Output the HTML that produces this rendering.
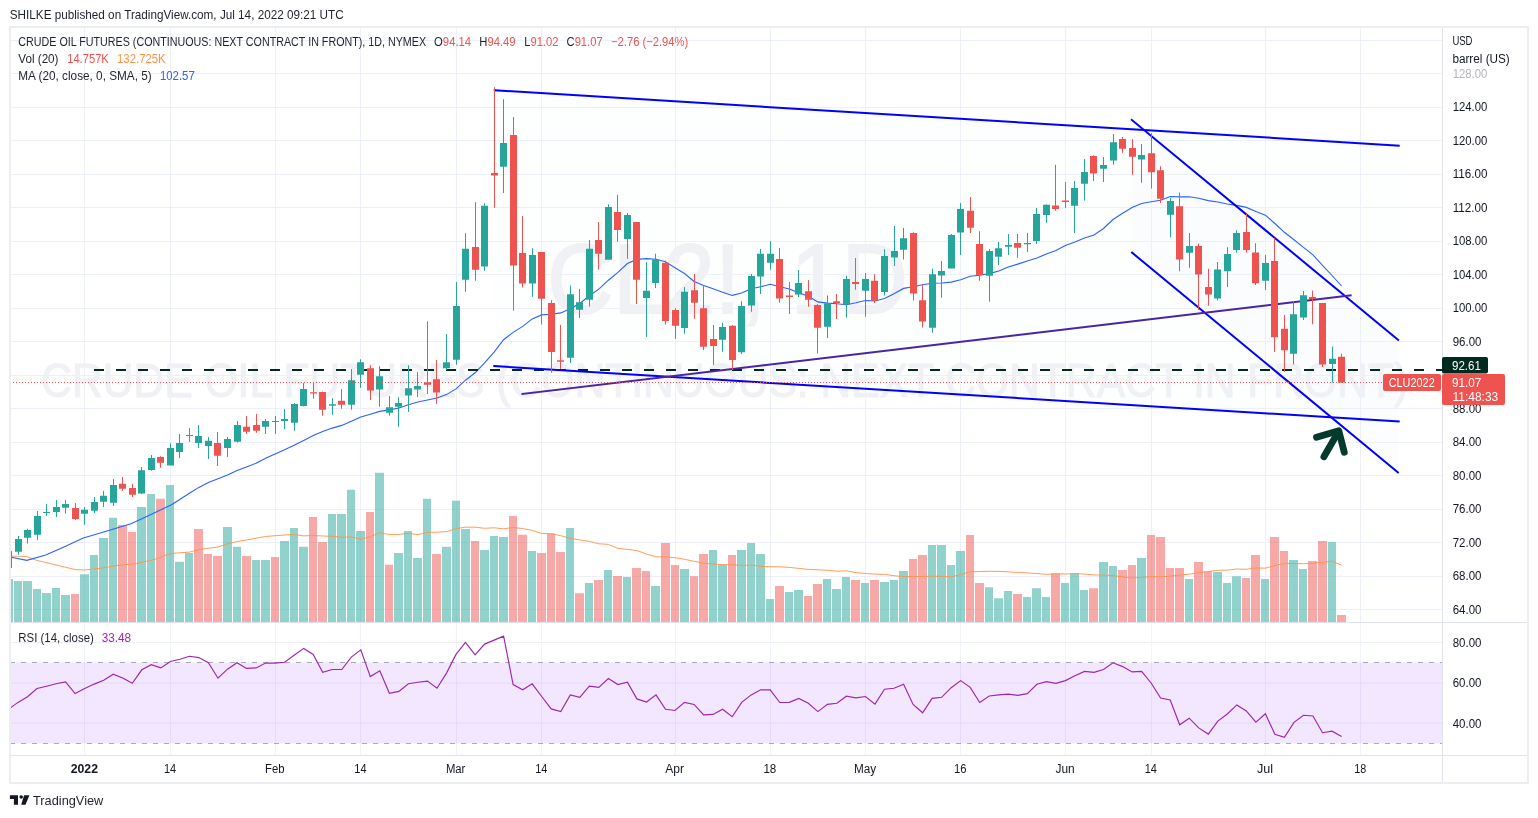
<!DOCTYPE html>
<html><head><meta charset="utf-8"><style>
html,body{margin:0;padding:0;background:#fff;}
body{width:1538px;height:818px;position:relative;overflow:hidden;font-family:"Liberation Sans",sans-serif;color:#131722;}
</style></head><body>
<svg width="1538" height="818" viewBox="0 0 1538 818" style="position:absolute;left:0;top:0;will-change:transform">
<defs><clipPath id="cm"><rect x="10" y="28" width="1432" height="594"/></clipPath><clipPath id="cr"><rect x="10" y="623" width="1432" height="132"/></clipPath></defs>
<path d="M494.8 90L1398.7 145.3L1398.7 421.4L494.3 366.1Z" fill="#f6f7fc" fill-opacity="0.18"/>
<path d="M1131.8 119.9L1398.1 339.8L1397.9 472.3L1132 252.6Z" fill="#f6f7fc" fill-opacity="0.3"/>
<path d="M10 609.5H1442M10 576.5H1442M10 542.5H1442M10 509.5H1442M10 475.5H1442M10 442.5H1442M10 408.5H1442M10 375.5H1442M10 341.5H1442M10 308.5H1442M10 274.5H1442M10 241.5H1442M10 207.5H1442M10 174.5H1442M10 140.5H1442M10 107.5H1442M10 73.5H1442M10 40.5H1442M84.5 28V622M84.5 623V755M170.5 28V622M170.5 623V755M275.5 28V622M275.5 623V755M360.5 28V622M360.5 623V755M456.5 28V622M456.5 623V755M541.5 28V622M541.5 623V755M675.5 28V622M675.5 623V755M770.5 28V622M770.5 623V755M865.5 28V622M865.5 623V755M960.5 28V622M960.5 623V755M1065.5 28V622M1065.5 623V755M1151.5 28V622M1151.5 623V755M1265.5 28V622M1265.5 623V755M1360.5 28V622M1360.5 623V755M10 642.5H1442M10 683H1442M10 723H1442" stroke="#edf0f8" stroke-width="1" fill="none"/>
<g clip-path="url(#cm)">
<text x="547.3" y="312.8" font-family="Liberation Sans" font-size="99" fill="#f0f1f5" stroke="#f0f1f5" stroke-width="2" textLength="360.5" lengthAdjust="spacingAndGlyphs">CL2!, 1D</text>
<text x="41.2" y="396.6" font-family="Liberation Sans" font-size="47.5" fill="#f0f1f5" stroke="#f0f1f5" stroke-width="1.2" textLength="1367" lengthAdjust="spacingAndGlyphs">CRUDE OIL FUTURES (CONTINUOUS: NEXT CONTRACT IN FRONT)</text>
<path d="M4 579.1H13V622H4ZM14 581.0H22V622H14ZM23 581.0H32V622H23ZM33 588.9H41V622H33ZM42 593.0H51V622H42ZM52 588.0H60V622H52ZM61 595.0H70V622H61ZM80 574.2H89V622H80ZM90 555.0H98V622H90ZM99 538.0H108V622H99ZM109 517.8H117V622H109ZM137 506.9H146V622H137ZM147 494.0H155V622H147ZM166 485.0H174V622H166ZM175 561.8H184V622H175ZM185 553.0H193V622H185ZM223 527.0H232V622H223ZM233 546.8H241V622H233ZM252 559.9H260V622H252ZM261 560.1H270V622H261ZM280 540.9H289V622H280ZM290 528.0H298V622H290ZM299 546.8H308V622H299ZM328 513.9H336V622H328ZM337 513.9H346V622H337ZM347 489.8H355V622H347ZM356 530.9H365V622H356ZM375 472.8H384V622H375ZM394 553.0H403V622H394ZM404 530.9H412V622H404ZM413 557.9H422V622H413ZM423 498.8H431V622H423ZM442 546.8H451V622H442ZM452 500.8H460V622H452ZM461 529.0H470V622H461ZM480 550.1H489V622H480ZM490 536.0H498V622H490ZM499 537.0H508V622H499ZM528 551.1H536V622H528ZM566 528.0H574V622H566ZM585 583.0H593V622H585ZM604 570.1H612V622H604ZM623 576.9H631V622H623ZM651 586.0H660V622H651ZM680 569.1H689V622H680ZM709 550.0H717V622H709ZM718 564.4H727V622H718ZM737 550.0H746V622H737ZM747 542.9H755V622H747ZM756 554.1H765V622H756ZM766 598.9H774V622H766ZM785 592.0H793V622H785ZM794 590.1H803V622H794ZM823 579.1H831V622H823ZM832 589.1H841V622H832ZM842 576.9H850V622H842ZM861 583.1H869V622H861ZM880 582.0H889V622H880ZM890 580.1H898V622H890ZM899 571.0H908V622H899ZM928 544.9H936V622H928ZM937 544.9H946V622H937ZM947 564.9H955V622H947ZM956 550.9H965V622H956ZM985 587.2H993V622H985ZM994 598.2H1003V622H994ZM1004 591.1H1012V622H1004ZM1023 597.0H1031V622H1023ZM1032 588.2H1041V622H1032ZM1042 597.0H1050V622H1042ZM1061 583.1H1069V622H1061ZM1070 573.2H1079V622H1070ZM1080 590.1H1088V622H1080ZM1099 561.9H1108V622H1099ZM1109 565.9H1117V622H1109ZM1137 558.1H1146V622H1137ZM1185 579.1H1193V622H1185ZM1213 572.0H1222V622H1213ZM1223 583.1H1231V622H1223ZM1232 576.2H1241V622H1232ZM1261 579.1H1269V622H1261ZM1289 560.0H1298V622H1289ZM1299 569.1H1307V622H1299ZM1328 542.0H1336V622H1328Z" fill="rgba(38,166,154,0.5)"/>
<path d="M71 594.0H79V622H71ZM118 525.1H127V622H118ZM128 531.9H136V622H128ZM156 498.8H165V622H156ZM194 529.0H203V622H194ZM204 554.0H212V622H204ZM213 556.0H222V622H213ZM242 556.0H251V622H242ZM271 557.0H279V622H271ZM309 517.0H317V622H309ZM318 541.9H327V622H318ZM366 512.0H374V622H366ZM385 564.8H393V622H385ZM432 554.0H441V622H432ZM471 540.9H479V622H471ZM509 516.1H517V622H509ZM518 534.8H527V622H518ZM537 553.0H546V622H537ZM547 533.5H555V622H547ZM556 552.1H565V622H556ZM575 593.2H584V622H575ZM594 580.0H603V622H594ZM613 575.9H622V622H613ZM632 568.1H641V622H632ZM642 571.0H650V622H642ZM661 542.9H670V622H661ZM671 564.9H679V622H671ZM690 576.2H698V622H690ZM699 554.1H708V622H699ZM728 555.0H736V622H728ZM775 586.0H784V622H775ZM804 596.0H812V622H804ZM813 583.9H822V622H813ZM851 580.1H860V622H851ZM870 580.1H879V622H870ZM909 559.0H917V622H909ZM918 555.0H927V622H918ZM966 535.1H974V622H966ZM975 583.1H984V622H975ZM1013 594.1H1022V622H1013ZM1051 573.2H1060V622H1051ZM1089 588.2H1098V622H1089ZM1118 570.0H1127V622H1118ZM1128 564.9H1136V622H1128ZM1147 535.1H1155V622H1147ZM1156 537.0H1165V622H1156ZM1166 568.1H1174V622H1166ZM1175 568.1H1184V622H1175ZM1194 561.9H1203V622H1194ZM1204 571.3H1212V622H1204ZM1242 578.1H1250V622H1242ZM1251 555.0H1260V622H1251ZM1270 537.0H1279V622H1270ZM1280 550.9H1288V622H1280ZM1308 561.0H1317V622H1308ZM1318 540.9H1327V622H1318ZM1337 615.0H1346V622H1337Z" fill="rgba(239,83,80,0.5)"/>
<polyline fill="none" stroke="#ff9248" stroke-opacity="0.9" stroke-width="1" points="11.4,556.1 26.8,556.5 35.5,560.0 75.3,569.6 84.7,570.0 102.2,568.0 119.1,565.2 136.7,563.5 156.3,559.0 166.1,555.0 172.0,553.4 189.4,552.1 198.9,549.6 208.4,548.2 218.0,547.0 227.5,543.9 237.0,541.6 246.5,540.0 256.1,538.2 265.6,536.5 275.1,535.7 284.6,535.0 294.1,534.5 303.7,535.9 313.2,535.5 322.7,536.0 332.2,536.3 341.8,537.3 351.3,536.9 360.8,539.2 370.3,536.7 379.8,532.7 389.4,534.5 398.9,534.4 408.4,533.2 417.9,534.7 427.5,532.3 437.0,532.2 446.5,531.6 456.0,528.6 465.5,527.2 475.1,527.2 484.6,528.3 494.1,527.8 503.6,528.8 513.1,527.5 522.7,528.5 532.2,530.4 541.7,533.5 551.2,533.7 560.8,535.7 570.3,538.4 579.8,539.9 589.3,541.4 598.8,543.8 608.4,544.4 617.9,548.3 627.4,549.4 636.9,550.5 646.5,554.0 656.0,556.8 665.5,556.9 675.0,557.7 684.5,559.3 694.1,561.3 703.6,563.2 713.1,564.0 722.6,564.6 732.2,564.7 741.7,565.5 751.2,565.1 760.7,566.4 770.2,566.7 779.8,566.8 789.3,567.4 798.8,568.4 808.3,569.4 817.9,569.8 827.4,570.3 836.9,571.2 846.4,570.8 855.9,572.6 865.5,573.5 875.0,574.1 884.5,574.4 894.0,575.7 903.6,576.7 913.1,576.5 922.6,576.5 932.1,576.2 941.6,576.3 951.2,576.9 960.7,574.5 970.2,571.9 979.7,571.5 989.2,571.3 998.8,571.4 1008.3,571.8 1017.8,572.5 1027.3,572.9 1036.9,573.5 1046.4,574.3 1055.9,573.9 1065.4,574.0 1074.9,573.6 1084.5,574.1 1094.0,574.9 1103.5,575.1 1113.0,575.6 1122.6,576.9 1132.1,577.9 1141.6,577.5 1151.1,576.7 1160.6,576.8 1170.2,576.1 1179.7,575.1 1189.2,574.2 1198.7,572.7 1208.3,571.6 1217.8,570.3 1227.3,570.1 1236.8,569.0 1246.3,569.3 1255.9,567.9 1265.4,568.2 1274.9,565.5 1284.4,563.6 1294.0,563.5 1303.5,563.7 1313.0,563.3 1322.5,562.1 1332.0,561.2 1341.6,565.2"/>
<polyline fill="none" stroke="#2962ff" stroke-width="1.1" points="11.4,557.2 26.8,560.4 45.7,555.0 64.5,546.7 83.3,537.9 105.4,531.5 130.9,523.7 144.6,517.5 172.0,504.5 189.4,493.2 198.9,487.4 208.4,482.5 218.0,478.8 227.5,475.0 237.0,470.6 246.5,466.9 256.1,463.2 265.6,458.3 275.1,453.9 284.6,449.8 294.1,445.2 303.7,440.4 313.2,435.6 322.7,431.4 332.2,428.1 341.8,425.4 351.3,421.3 360.8,417.0 370.3,414.3 379.8,411.4 389.4,409.9 398.9,408.0 408.4,404.7 417.9,402.0 427.5,400.0 437.0,398.0 446.5,394.6 456.0,388.9 465.5,380.2 475.1,372.8 484.6,362.9 494.1,352.2 503.6,339.7 513.1,332.4 522.7,326.4 532.2,318.9 541.7,314.9 551.2,314.3 560.8,312.9 570.3,308.8 579.8,303.5 589.3,295.8 598.8,289.1 608.4,280.2 617.9,272.4 627.4,263.5 636.9,259.4 646.5,258.6 656.0,259.2 665.5,261.7 675.0,267.7 684.5,273.5 694.1,281.5 703.6,285.6 713.1,288.7 722.6,292.3 732.2,295.4 741.7,293.1 751.2,288.8 760.7,286.8 770.2,284.3 779.8,286.8 789.3,289.0 798.8,292.8 808.3,296.3 817.9,301.9 827.4,303.1 836.9,303.7 846.4,304.7 855.9,302.8 865.5,300.5 875.0,301.0 884.5,298.6 894.0,293.8 903.6,288.4 913.1,286.8 922.6,284.8 932.1,283.3 941.6,283.0 951.2,282.1 960.7,279.8 970.2,276.3 979.7,275.2 989.2,273.6 998.8,271.0 1008.3,266.9 1017.8,264.1 1027.3,261.1 1036.9,257.9 1046.4,253.9 1055.9,250.4 1065.4,245.5 1074.9,242.1 1084.5,238.1 1094.0,234.9 1103.5,228.5 1113.0,219.5 1122.6,213.2 1132.1,207.5 1141.6,203.5 1151.1,201.7 1160.6,200.2 1170.2,196.5 1179.7,196.9 1189.2,196.8 1198.7,198.3 1208.3,200.6 1217.8,202.0 1227.3,204.0 1236.8,205.4 1246.3,207.4 1255.9,211.5 1265.4,215.2 1274.9,223.5 1284.4,232.3 1294.0,239.8 1303.5,247.4 1313.0,254.9 1322.5,265.3 1332.0,275.5 1341.6,286.0"/>
<path d="M94 370H1442" stroke="#002a1e" stroke-width="2" stroke-dasharray="10 12"/>
<g stroke="#0000ff" stroke-width="2" stroke-linecap="square" fill="none">
<path d="M494.8 90.3L1398.7 145.6"/>
<path d="M494.3 366.1L1398.7 421.4"/>
<path d="M1131.8 119.9L1398.1 339.8"/>
<path d="M1132 252.6L1397.9 472.3"/>
</g>
<path d="M522.4 394L1350.6 295.3" stroke="#4a24a8" stroke-width="2" stroke-linecap="square"/>
<g stroke="#023a2c" stroke-width="6.8" stroke-linecap="round" stroke-linejoin="round" fill="none"><path d="M1316.5 437.3L1338.8 430.8L1344.3 452.3"/><path d="M1336.5 435L1323.9 456.8"/></g>
<path d="M8 545.0h1V570.0h-1ZM5 551.0h7v17.0h-7ZM18 536.0h1V554.7h-1ZM15 538.9h7v12.9h-7ZM27 528.8h1V543.6h-1ZM24 529.9h7v7.8h-7ZM37 511.0h1V539.8h-1ZM34 516.0h7v18.8h-7ZM46 503.9h1V515.8h-1ZM43 511.9h7v1.1h-7ZM56 499.9h1V517.0h-1ZM53 506.9h7v5.0h-7ZM65 499.9h1V513.6h-1ZM62 503.9h7v3.9h-7ZM84 507.0h1V524.7h-1ZM81 509.7h7v4.1h-7ZM94 497.0h1V512.9h-1ZM91 502.0h7v8.7h-7ZM103 491.0h1V507.0h-1ZM100 495.8h7v6.0h-7ZM113 479.0h1V505.9h-1ZM110 485.0h7v17.7h-7ZM141 467.0h1V494.0h-1ZM138 470.2h7v23.3h-7ZM151 455.0h1V470.7h-1ZM148 458.1h7v11.8h-7ZM170 443.2h1V465.6h-1ZM167 448.1h7v17.5h-7ZM179 434.1h1V457.9h-1ZM176 443.0h7v8.9h-7ZM198 425.0h1V448.0h-1ZM195 436.0h7v7.0h-7ZM208 437.0h1V458.9h-1ZM205 440.8h7v5.1h-7ZM227 437.0h1V457.0h-1ZM224 439.1h7v8.9h-7ZM237 421.1h1V442.5h-1ZM234 425.0h7v16.8h-7ZM265 419.0h1V433.9h-1ZM262 421.1h7v5.6h-7ZM275 416.1h1V433.9h-1ZM272 421.1h7v1.0h-7ZM284 409.1h1V429.0h-1ZM281 419.0h7v2.1h-7ZM294 403.1h1V430.8h-1ZM291 404.0h7v18.8h-7ZM303 383.1h1V406.5h-1ZM300 389.1h7v16.8h-7ZM332 398.2h1V414.8h-1ZM329 404.2h7v1.5h-7ZM351 369.1h1V409.8h-1ZM348 380.2h7v24.5h-7ZM360 359.2h1V387.9h-1ZM357 362.3h7v12.4h-7ZM379 366.2h1V406.8h-1ZM376 376.3h7v13.3h-7ZM389 396.1h1V415.7h-1ZM386 407.3h7v5.4h-7ZM398 397.3h1V426.8h-1ZM395 403.0h7v3.8h-7ZM408 365.2h1V411.9h-1ZM405 388.3h7v7.3h-7ZM417 372.0h1V397.0h-1ZM414 385.9h7v3.7h-7ZM446 334.1h1V370.1h-1ZM443 362.3h7v5.9h-7ZM456 282.1h1V364.8h-1ZM453 306.1h7v53.6h-7ZM465 233.2h1V291.8h-1ZM462 248.8h7v30.9h-7ZM484 203.3h1V270.7h-1ZM481 205.8h7v60.6h-7ZM503 99.3h1V192.9h-1ZM500 143.0h7v23.7h-7ZM532 248.2h1V296.7h-1ZM529 255.1h7v28.5h-7ZM570 285.4h1V362.9h-1ZM567 294.2h7v63.6h-7ZM579 288.9h1V317.9h-1ZM576 302.2h7v7.6h-7ZM589 240.0h1V306.5h-1ZM586 248.8h7v50.9h-7ZM608 204.3h1V259.8h-1ZM605 207.0h7v52.8h-7ZM627 213.1h1V258.7h-1ZM624 214.9h7v24.0h-7ZM646 262.0h1V336.9h-1ZM643 290.8h7v7.1h-7ZM655 253.8h1V288.0h-1ZM652 259.4h7v23.5h-7ZM684 286.9h1V333.8h-1ZM681 291.7h7v36.3h-7ZM722 322.8h1V351.8h-1ZM719 327.0h7v12.7h-7ZM741 301.2h1V354.0h-1ZM738 306.0h7v46.3h-7ZM751 274.1h1V311.8h-1ZM748 275.9h7v29.7h-7ZM760 249.0h1V293.9h-1ZM757 253.8h7v22.7h-7ZM770 241.1h1V269.7h-1ZM767 253.8h7v8.9h-7ZM798 270.0h1V297.0h-1ZM795 283.1h7v11.5h-7ZM827 295.4h1V338.0h-1ZM824 303.3h7v23.5h-7ZM846 275.8h1V317.8h-1ZM843 279.0h7v25.3h-7ZM865 273.1h1V316.8h-1ZM862 279.0h7v11.8h-7ZM884 249.2h1V295.6h-1ZM881 256.1h7v35.8h-7ZM894 226.0h1V265.9h-1ZM891 250.9h7v6.7h-7ZM903 228.0h1V259.6h-1ZM900 238.2h7v11.5h-7ZM932 268.4h1V332.8h-1ZM929 274.2h7v53.6h-7ZM941 261.1h1V297.7h-1ZM938 271.1h7v4.5h-7ZM951 234.1h1V268.4h-1ZM948 235.1h7v33.3h-7ZM960 202.9h1V254.9h-1ZM957 209.1h7v23.5h-7ZM989 249.1h1V301.8h-1ZM986 251.0h7v24.7h-7ZM998 242.0h1V264.9h-1ZM995 248.2h7v8.6h-7ZM1008 233.9h1V255.1h-1ZM1005 245.1h7v1.7h-7ZM1027 232.9h1V252.0h-1ZM1024 243.0h7v1.3h-7ZM1036 207.9h1V244.1h-1ZM1033 214.0h7v27.0h-7ZM1046 204.2h1V222.9h-1ZM1043 204.8h7v10.2h-7ZM1074 180.9h1V232.9h-1ZM1071 188.0h7v17.8h-7ZM1084 159.1h1V200.6h-1ZM1081 172.0h7v11.8h-7ZM1103 157.0h1V181.9h-1ZM1100 165.1h7v3.7h-7ZM1113 134.1h1V164.7h-1ZM1110 142.2h7v18.3h-7ZM1141 143.9h1V182.8h-1ZM1138 154.9h7v4.6h-7ZM1170 198.0h1V237.3h-1ZM1167 201.1h7v13.7h-7ZM1189 232.9h1V267.8h-1ZM1186 245.9h7v6.8h-7ZM1217 262.0h1V300.6h-1ZM1214 269.5h7v29.1h-7ZM1227 247.3h1V287.0h-1ZM1224 254.1h7v17.1h-7ZM1236 230.2h1V252.7h-1ZM1233 232.9h7v17.1h-7ZM1265 255.1h1V290.0h-1ZM1262 263.0h7v17.8h-7ZM1293 301.3h1V364.6h-1ZM1290 314.3h7v39.4h-7ZM1303 291.0h1V320.1h-1ZM1300 295.2h7v22.2h-7ZM1332 346.5h1V382.4h-1ZM1329 358.8h7v5.1h-7Z" fill="#26a69a"/>
<path d="M75 503.0h1V520.0h-1ZM72 508.0h7v10.9h-7ZM122 477.0h1V490.7h-1ZM119 483.8h7v5.0h-7ZM132 483.8h1V497.0h-1ZM129 488.0h7v6.8h-7ZM160 456.2h1V467.8h-1ZM157 457.0h7v5.8h-7ZM189 428.1h1V442.0h-1ZM186 435.0h7v1.0h-7ZM217 432.0h1V465.9h-1ZM214 443.0h7v12.8h-7ZM246 416.1h1V433.9h-1ZM243 426.7h7v5.0h-7ZM256 414.1h1V432.7h-1ZM253 425.0h7v5.8h-7ZM313 381.9h1V398.7h-1ZM310 392.2h7v1.4h-7ZM322 391.4h1V415.7h-1ZM319 391.9h7v17.9h-7ZM341 389.1h1V408.8h-1ZM338 400.8h7v3.9h-7ZM370 365.2h1V399.9h-1ZM367 368.2h7v22.3h-7ZM427 321.2h1V393.9h-1ZM424 382.2h7v2.6h-7ZM436 360.0h1V403.8h-1ZM433 379.3h7v13.3h-7ZM475 202.2h1V280.7h-1ZM472 246.9h7v22.8h-7ZM494 87.3h1V207.8h-1ZM491 173.1h7v2.5h-7ZM513 117.0h1V310.8h-1ZM510 135.1h7v130.3h-7ZM522 216.1h1V287.5h-1ZM519 253.1h7v30.5h-7ZM541 252.1h1V324.5h-1ZM538 252.1h7v46.6h-7ZM551 300.3h1V372.7h-1ZM548 303.0h7v48.9h-7ZM560 325.1h1V369.1h-1ZM557 360.3h7v1.4h-7ZM598 222.0h1V269.7h-1ZM595 240.0h7v13.7h-7ZM617 194.8h1V241.7h-1ZM614 212.0h7v17.9h-7ZM636 221.9h1V304.0h-1ZM633 221.9h7v57.9h-7ZM665 260.5h1V324.7h-1ZM662 262.7h7v58.3h-7ZM675 308.2h1V339.0h-1ZM672 310.0h7v15.8h-7ZM694 273.7h1V318.8h-1ZM691 290.2h7v12.5h-7ZM703 285.8h1V350.1h-1ZM700 308.2h7v38.6h-7ZM713 325.0h1V365.0h-1ZM710 339.0h7v6.9h-7ZM732 325.0h1V370.0h-1ZM729 325.8h7v34.2h-7ZM779 247.9h1V302.7h-1ZM776 258.9h7v39.6h-7ZM789 282.1h1V314.1h-1ZM786 295.4h7v1.6h-7ZM808 280.0h1V306.8h-1ZM805 291.2h7v8.5h-7ZM817 303.9h1V353.6h-1ZM814 304.9h7v22.9h-7ZM836 293.9h1V318.9h-1ZM833 301.2h7v1.7h-7ZM855 258.0h1V289.8h-1ZM852 282.1h7v1.9h-7ZM874 274.2h1V302.9h-1ZM871 280.8h7v20.0h-7ZM913 232.2h1V300.6h-1ZM910 233.0h7v60.5h-7ZM922 284.6h1V327.6h-1ZM919 300.2h7v21.4h-7ZM970 196.9h1V232.9h-1ZM967 210.8h7v16.9h-7ZM979 231.2h1V280.7h-1ZM976 244.1h7v30.8h-7ZM1017 233.9h1V257.8h-1ZM1014 243.0h7v4.8h-7ZM1055 164.7h1V210.8h-1ZM1052 205.6h7v3.4h-7ZM1065 181.9h1V207.9h-1ZM1062 200.6h7v1.5h-7ZM1093 155.3h1V180.9h-1ZM1090 156.0h7v17.6h-7ZM1122 137.0h1V152.8h-1ZM1119 139.1h7v9.6h-7ZM1132 139.1h1V174.7h-1ZM1129 148.1h7v8.7h-7ZM1151 133.0h1V188.4h-1ZM1148 153.2h7v19.1h-7ZM1160 166.2h1V203.1h-1ZM1157 170.3h7v28.4h-7ZM1179 192.5h1V271.2h-1ZM1176 206.2h7v53.4h-7ZM1198 243.8h1V309.9h-1ZM1195 245.9h7v28.7h-7ZM1208 268.8h1V305.8h-1ZM1205 287.0h7v7.5h-7ZM1246 214.1h1V252.7h-1ZM1243 231.9h7v18.1h-7ZM1255 243.2h1V284.9h-1ZM1252 252.4h7v30.8h-7ZM1274 238.0h1V352.0h-1ZM1271 261.0h7v76.2h-7ZM1284 315.0h1V372.1h-1ZM1281 328.7h7v21.5h-7ZM1312 290.4h1V324.2h-1ZM1309 296.9h7v2.1h-7ZM1322 303.0h1V367.0h-1ZM1319 303.0h7v61.6h-7ZM1341 353.8h1V382.9h-1ZM1338 356.8h7v25.7h-7Z" fill="#ef5350"/>
<path d="M10 382.5H1383" stroke="#ef5350" stroke-width="1" stroke-dasharray="1 2"/>
</g>
<g clip-path="url(#cr)">
<rect x="10" y="662.5" width="1432" height="81" fill="#f3e6ff"/>
<path d="M84.5 623V755M170.5 623V755M275.5 623V755M360.5 623V755M456.5 623V755M541.5 623V755M675.5 623V755M770.5 623V755M865.5 623V755M960.5 623V755M1065.5 623V755M1151.5 623V755M1265.5 623V755M1360.5 623V755M10 683H1442M10 723H1442" stroke="#f0f3fa" style="mix-blend-mode:multiply"/>
<path d="M10 662.5H1442M10 743.5H1442" stroke="#9598a1" stroke-opacity="0.8" stroke-width="1" stroke-dasharray="5 6"/>
<polyline fill="none" stroke="#9c27b0" stroke-width="1.15" points="10.4,707.9 18.0,702.4 27.5,696.8 37.0,688.5 46.6,686.2 56.1,683.8 65.6,681.9 75.1,693.6 84.7,688.5 94.2,684.1 103.7,680.3 113.2,674.2 122.7,677.9 132.3,683.3 141.8,669.8 151.3,664.7 160.8,667.9 170.4,661.5 179.9,659.3 189.4,656.3 198.9,657.6 208.4,662.8 218.0,678.2 227.5,669.2 237.0,662.8 246.5,668.4 256.1,667.9 265.6,663.1 275.1,663.1 284.6,662.3 294.1,655.2 303.7,648.4 313.2,654.4 322.7,672.3 332.2,669.5 341.8,669.5 351.3,657.1 360.8,649.9 370.3,676.6 379.8,670.8 389.4,693.3 398.9,691.4 408.4,683.8 417.9,682.2 427.5,681.1 437.0,688.2 446.5,673.1 456.0,654.4 465.5,642.5 475.1,654.9 484.6,644.1 494.1,640.1 503.6,636.1 513.1,684.6 522.7,689.8 532.2,683.8 541.7,696.5 551.2,708.9 560.8,711.6 570.3,694.9 579.8,697.3 589.3,686.2 598.8,687.3 608.4,678.5 617.9,684.6 627.4,682.2 636.9,698.9 646.5,702.0 656.0,694.9 665.5,709.2 675.0,710.5 684.5,702.4 694.1,704.4 703.6,714.8 713.1,714.4 722.6,709.2 732.2,716.7 741.7,702.4 751.2,694.9 760.7,689.8 770.2,689.8 779.8,702.5 789.3,702.4 798.8,698.4 808.3,703.2 817.9,711.6 827.4,704.4 836.9,703.3 846.4,696.2 855.9,697.8 865.5,696.5 875.0,704.1 884.5,689.3 894.0,688.2 903.6,684.3 913.1,704.4 922.6,712.8 932.1,698.4 941.6,697.3 951.2,687.7 960.7,680.6 970.2,687.4 979.7,702.5 989.2,696.0 998.8,694.9 1008.3,694.1 1017.8,695.4 1027.3,693.6 1036.9,684.3 1046.4,681.7 1055.9,683.3 1065.4,680.6 1074.9,675.8 1084.5,671.4 1094.0,672.3 1103.5,669.5 1113.0,662.8 1122.6,666.6 1132.1,671.9 1141.6,671.4 1151.1,683.0 1160.6,698.1 1170.2,700.0 1179.7,724.8 1189.2,718.2 1198.7,727.9 1208.3,734.1 1217.8,721.1 1227.3,714.0 1236.8,704.9 1246.3,711.0 1255.9,722.2 1265.4,713.7 1274.9,734.3 1284.4,737.3 1294.0,722.4 1303.5,715.3 1313.0,716.0 1322.5,732.7 1332.0,731.2 1341.6,736.4"/>
</g>
<path d="M1442.5 28V782 M11 622.5H1527 M11 755.5H1527" stroke="#e0e3eb" stroke-width="1" fill="none"/>
<rect x="10" y="27" width="1518" height="756" stroke="#eceef2" stroke-width="2" fill="none"/>
<g font-family="Liberation Sans" font-size="12" fill="#131722">
<text x="1452.4" y="45" textLength="20.1" lengthAdjust="spacingAndGlyphs">USD</text><text x="1452.4" y="62.5" textLength="57.4" lengthAdjust="spacingAndGlyphs">barrel (US)</text>
<text x="1452.7" y="613.5" textLength="28.7" lengthAdjust="spacingAndGlyphs">64.00</text>
<text x="1452.7" y="580.0" textLength="28.7" lengthAdjust="spacingAndGlyphs">68.00</text>
<text x="1452.7" y="546.5" textLength="28.7" lengthAdjust="spacingAndGlyphs">72.00</text>
<text x="1452.7" y="513.0" textLength="28.7" lengthAdjust="spacingAndGlyphs">76.00</text>
<text x="1452.7" y="479.5" textLength="28.7" lengthAdjust="spacingAndGlyphs">80.00</text>
<text x="1452.7" y="446.0" textLength="28.7" lengthAdjust="spacingAndGlyphs">84.00</text>
<text x="1452.7" y="412.5" textLength="28.7" lengthAdjust="spacingAndGlyphs">88.00</text>
<text x="1452.7" y="345.5" textLength="28.7" lengthAdjust="spacingAndGlyphs">96.00</text>
<text x="1452.7" y="312.0" textLength="34.7" lengthAdjust="spacingAndGlyphs">100.00</text>
<text x="1452.7" y="278.5" textLength="34.7" lengthAdjust="spacingAndGlyphs">104.00</text>
<text x="1452.7" y="245.0" textLength="34.7" lengthAdjust="spacingAndGlyphs">108.00</text>
<text x="1452.7" y="211.5" textLength="34.7" lengthAdjust="spacingAndGlyphs">112.00</text>
<text x="1452.7" y="178.0" textLength="34.7" lengthAdjust="spacingAndGlyphs">116.00</text>
<text x="1452.7" y="144.5" textLength="34.7" lengthAdjust="spacingAndGlyphs">120.00</text>
<text x="1452.7" y="111.0" textLength="34.7" lengthAdjust="spacingAndGlyphs">124.00</text>
<text x="1452.7" y="77.5" fill="#b2b5be" textLength="34.7" lengthAdjust="spacingAndGlyphs">128.00</text>
<text x="1452.7" y="646.8" textLength="28.7" lengthAdjust="spacingAndGlyphs">80.00</text>
<text x="1452.7" y="687.1" textLength="28.7" lengthAdjust="spacingAndGlyphs">60.00</text>
<text x="1452.7" y="727.5" textLength="28.7" lengthAdjust="spacingAndGlyphs">40.00</text>
</g>
<rect x="1442" y="357" width="46" height="16.5" rx="2" fill="#002a1e"/>
<text x="1452" y="369.7" font-family="Liberation Sans" font-size="12" fill="#fff" textLength="28.9" lengthAdjust="spacingAndGlyphs">92.61</text>
<rect x="1442" y="374" width="63" height="31" rx="2" fill="#ef5350"/>
<text x="1452" y="386.8" font-family="Liberation Sans" font-size="12" fill="#fff" textLength="29.3" lengthAdjust="spacingAndGlyphs">91.07</text>
<text x="1452.5" y="400.6" font-family="Liberation Sans" font-size="12" fill="#fff" textLength="45.7" lengthAdjust="spacingAndGlyphs">11:48:33</text>
<rect x="1383" y="374" width="58" height="17" rx="2" fill="#ef5350"/>
<text x="1388.7" y="386.8" font-family="Liberation Sans" font-size="12" fill="#fff" textLength="46" lengthAdjust="spacingAndGlyphs">CLU2022</text>
<g font-family="Liberation Sans" font-size="12" fill="#131722">
<text x="70.7" y="773.2" font-weight="bold" textLength="27.3" lengthAdjust="spacingAndGlyphs">2022</text>
<text x="163.9" y="773.2" textLength="12.2" lengthAdjust="spacingAndGlyphs">14</text>
<text x="265.0" y="773.2" textLength="19.5" lengthAdjust="spacingAndGlyphs">Feb</text>
<text x="354.3" y="773.2" textLength="12.2" lengthAdjust="spacingAndGlyphs">14</text>
<text x="445.9" y="773.2" textLength="19.5" lengthAdjust="spacingAndGlyphs">Mar</text>
<text x="535.3" y="773.2" textLength="12.1" lengthAdjust="spacingAndGlyphs">14</text>
<text x="665.3" y="773.2" textLength="18.7" lengthAdjust="spacingAndGlyphs">Apr</text>
<text x="763.4" y="773.2" textLength="12.9" lengthAdjust="spacingAndGlyphs">18</text>
<text x="854.0" y="773.2" textLength="22.2" lengthAdjust="spacingAndGlyphs">May</text>
<text x="954.1" y="773.2" textLength="12.5" lengthAdjust="spacingAndGlyphs">16</text>
<text x="1055.5" y="773.2" textLength="19.2" lengthAdjust="spacingAndGlyphs">Jun</text>
<text x="1144.7" y="773.2" textLength="12.2" lengthAdjust="spacingAndGlyphs">14</text>
<text x="1257.0" y="773.2" textLength="16.1" lengthAdjust="spacingAndGlyphs">Jul</text>
<text x="1354.3" y="773.2" textLength="12.0" lengthAdjust="spacingAndGlyphs">18</text>
</g>
</svg>
<svg width="1538" height="818" style="position:absolute;left:0;top:0;will-change:transform" font-family="Liberation Sans"><text x="9.8" y="19.2" font-size="12.2" fill="#1e222d" textLength="333.8" lengthAdjust="spacingAndGlyphs">SHILKE published on TradingView.com, Jul 14, 2022 09:21 UTC</text><text x="18.3" y="45.9" font-size="12.4" fill="#1e222d" textLength="407.8" lengthAdjust="spacingAndGlyphs">CRUDE OIL FUTURES (CONTINUOUS: NEXT CONTRACT IN FRONT), 1D, NYMEX</text><text x="434.1" y="45.9" font-size="12.4" fill="#1e222d" textLength="37.0" lengthAdjust="spacingAndGlyphs">O<tspan fill="#ef5350">94.14</tspan></text><text x="479.3" y="45.9" font-size="12.4" fill="#1e222d" textLength="36.3" lengthAdjust="spacingAndGlyphs">H<tspan fill="#ef5350">94.49</tspan></text><text x="524.2" y="45.9" font-size="12.4" fill="#1e222d" textLength="34.2" lengthAdjust="spacingAndGlyphs">L<tspan fill="#ef5350">91.02</tspan></text><text x="566.6" y="45.9" font-size="12.4" fill="#1e222d" textLength="36.0" lengthAdjust="spacingAndGlyphs">C<tspan fill="#ef5350">91.07</tspan></text><text x="611.0" y="45.9" font-size="12.4" fill="#ef5350" textLength="77.3" lengthAdjust="spacingAndGlyphs">&#8722;2.76 (&#8722;2.94%)</text><text x="18.3" y="62.7" font-size="12.4" fill="#1e222d" textLength="40.2" lengthAdjust="spacingAndGlyphs">Vol (20)</text><text x="67.2" y="62.7" font-size="12.4" fill="#ef5350" textLength="41.6" lengthAdjust="spacingAndGlyphs">14.757K</text><text x="117.0" y="62.7" font-size="12.4" fill="#ff9248" textLength="48.7" lengthAdjust="spacingAndGlyphs">132.725K</text><text x="18.3" y="79.6" font-size="12.4" fill="#1e222d" textLength="133.4" lengthAdjust="spacingAndGlyphs">MA (20, close, 0, SMA, 5)</text><text x="159.9" y="79.6" font-size="12.4" fill="#2962ff" textLength="34.9" lengthAdjust="spacingAndGlyphs">102.57</text><text x="18.3" y="642.0" font-size="12.4" fill="#1e222d" textLength="75.5" lengthAdjust="spacingAndGlyphs">RSI (14, close)</text><text x="101.7" y="642.0" font-size="12.4" fill="#9c27b0" textLength="29.4" lengthAdjust="spacingAndGlyphs">33.48</text><text x="33.0" y="804.7" font-size="12.4" fill="#1e222d" textLength="70.3" lengthAdjust="spacingAndGlyphs">TradingView</text><path d="M9.9 795.2H18V804.7H13.9V798.9H9.9Z" fill="#131722"/><circle cx="21.2" cy="797" r="1.8" fill="#131722"/><path d="M24.1 795.2H29.4L25.5 804.7H21.2Z" fill="#131722"/></svg>
</body></html>
